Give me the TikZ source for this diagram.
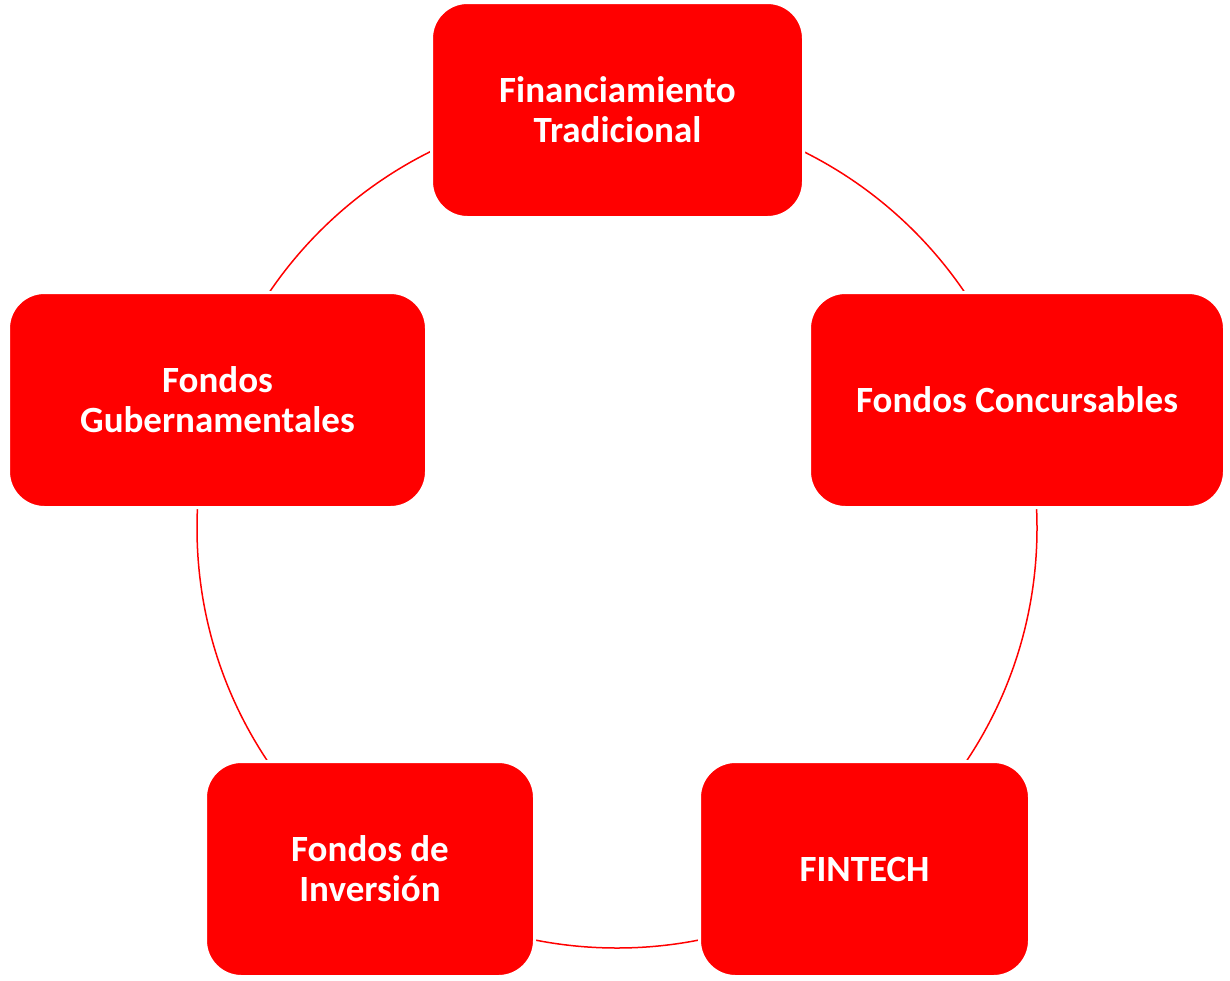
\documentclass[tikz,border=0pt]{standalone}
\usepackage{fontspec}
\setmainfont{Carlito}
\begin{document}
\begin{tikzpicture}[x=1pt,y=-1pt,
  box/.style={rectangle, rounded corners=36pt, fill={rgb,255:red,255;green,0;blue,0},
    draw=white, line width=3pt, minimum height=215pt, inner sep=0pt,
    text=white, font=\fontsize{37}{40}\selectfont\bfseries, align=center},
  ring/.style={draw={rgb,255:red,255;green,0;blue,0}, line width=1.5pt}]
\useasboundingbox (0,0) rectangle (1230,980);
\coordinate (ctr) at (617,528);
\draw[ring] (ctr) circle[radius=420];
\node[box, minimum width=372pt] (ft) at (617.5,110) {Financiamiento\\Tradicional};
\node[box, minimum width=415pt] (fc) at (1017,400) {Fondos Concursables};
\node[box, minimum width=330pt] (fin) at (864.5,869) {FINTECH};
\node[box, minimum width=329pt] (fi) at (370,869) {Fondos de\\Inversión};
\node[box, minimum width=418pt] (fg) at (217.5,400) {Fondos\\Gubernamentales};
\end{tikzpicture}
\end{document}
